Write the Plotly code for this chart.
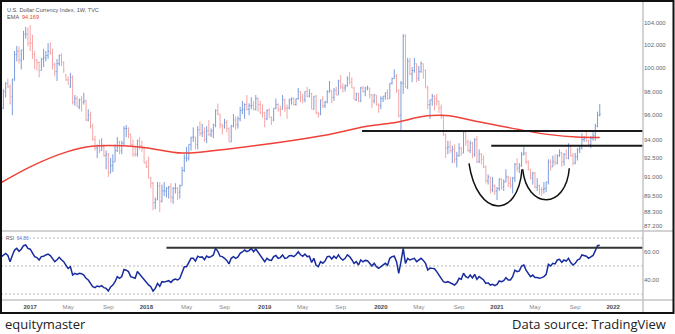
import math
import pandas as pd
import plotly.graph_objects as go

# ---------------- data (weekly bars, Monday dates) ----------------
week_start = "2016-10-03"

open_ = [
    95.5, 96.6, 98.0, 98.7, 98.4, 97.6, 99.1, 101.2, 101.5, 100.7, 101.6, 103.0, 103.0,
    102.2, 102.2, 101.2, 100.7, 100.5, 99.8, 100.8, 100.9, 101.1, 101.5, 101.3, 100.3, 99.7,
    100.4, 101.1, 100.5, 99.4, 99.0, 98.4, 99.2, 97.1, 97.4, 96.7, 97.3, 97.1, 97.2, 95.6,
    96.0, 95.1, 94.0, 93.3, 93.5, 93.1, 93.4, 92.7, 92.8, 91.3, 91.9, 92.2, 93.1, 93.8,
    93.1, 93.7, 94.9, 94.9, 94.4, 93.6, 92.8, 92.8, 93.9, 93.5, 93.3,
    92.1, 91.8, 90.9, 90.5, 89.0, 89.2, 90.3, 89.1, 89.9, 89.9, 90.1, 90.2, 89.4, 90.1,
    90.1, 89.8, 90.3, 91.5, 92.5, 92.5, 93.6, 94.2, 94.2, 93.6, 94.8, 94.5, 94.6, 94.0,
    94.7, 94.4, 94.7, 95.2, 96.4, 96.1, 95.2, 95.1, 95.4, 94.9, 93.8, 95.1, 95.6, 95.2,
    95.7, 96.4, 96.5, 96.9, 96.5, 96.8, 96.8, 96.5, 97.4, 96.9,
    96.2, 96.2, 95.7, 96.4, 95.8, 95.6, 96.6, 96.9, 96.5, 96.5, 97.3, 96.6, 96.6, 97.3,
    97.4, 96.9, 97.4, 98.0, 97.5, 97.3, 98.0, 97.6, 97.8, 96.5, 97.6, 96.2, 96.1, 97.3,
    96.8, 97.1, 98.0, 98.1, 97.5, 98.1, 97.7, 98.9, 98.4, 98.3, 98.5, 99.1, 98.8, 98.3,
    97.3, 97.8, 97.2, 98.3, 98.0, 98.3, 98.3, 97.7, 97.2, 97.7,
    96.9, 96.8, 97.4, 97.6, 97.9, 97.4, 98.7, 99.1, 99.3, 98.1, 96.0, 98.7, 102.8, 98.4,
    100.6, 99.5, 99.8, 100.4, 99.1, 99.7, 100.4, 99.8, 98.3, 96.9, 97.3, 97.6, 97.4, 97.2,
    96.6, 95.9, 94.4, 93.3, 93.4, 93.1, 93.2, 92.4, 92.7, 93.3, 92.9, 94.6, 93.8, 93.1,
    93.7, 92.8, 94.0, 92.2, 92.8, 92.4, 91.8, 90.7, 91.0, 90.0,
    90.3, 89.9, 90.1, 90.8, 90.2, 90.6, 91.0, 90.5, 90.3, 90.9, 92.0, 91.7, 91.9, 92.8,
    92.9, 92.2, 91.6, 90.9, 91.3, 90.2, 90.3, 90.0, 90.0, 90.1, 90.6, 92.2, 91.8, 92.2,
    92.1, 92.7, 92.9, 92.2, 92.8, 92.5, 93.5, 92.7, 92.1, 92.6, 93.2, 93.3, 94.0, 94.1,
    93.9, 93.6, 94.1, 94.3, 95.1, 96.0,
]
high = [
    96.9, 98.2, 98.8, 99.1, 98.6, 99.1, 101.5, 101.95, 101.9, 101.6, 103.3, 103.65, 103.6,
    103.82, 102.95, 101.5, 100.8, 100.6, 100.9, 101.7, 101.5, 102.2, 102.3, 101.7, 100.5, 100.8,
    101.2, 101.3, 100.6, 99.5, 99.3, 99.6, 99.4, 97.7, 97.6, 97.4, 97.6, 97.9, 97.3, 96.5,
    96.3, 95.3, 94.3, 93.6, 94.0, 94.1, 93.6, 93.1, 92.9, 92.5, 92.8, 93.6, 94.2, 93.9,
    93.9, 95.1, 95.2, 95.0, 94.5, 94.0, 93.4, 94.0, 94.2, 93.9, 93.3,
    92.3, 92.6, 91.0, 90.6, 89.4, 90.6, 90.6, 90.4, 90.6, 90.2, 90.3, 90.5, 90.2, 90.5,
    90.2, 90.4, 91.8, 92.8, 93.4, 93.6, 94.2, 95.0, 94.2, 95.1, 95.5, 95.3, 95.0, 95.1,
    95.6, 94.9, 95.3, 96.5, 96.98, 96.1, 95.3, 95.7, 95.6, 95.0, 95.2, 96.1, 95.9, 95.9,
    96.7, 97.2, 97.0, 97.7, 97.0, 97.5, 97.2, 97.7, 97.5, 97.2,
    96.9, 96.3, 96.5, 96.6, 95.9, 96.6, 97.4, 97.0, 96.8, 97.7, 97.4, 96.9, 97.4, 97.5,
    97.5, 97.4, 98.3, 98.0, 97.8, 98.0, 98.4, 98.2, 97.9, 97.6, 97.7, 96.3, 97.3, 97.6,
    97.2, 98.1, 98.9, 98.1, 98.3, 98.4, 99.0, 99.4, 98.7, 98.6, 99.3, 99.67, 99.2, 98.4,
    97.9, 97.9, 98.4, 98.5, 98.4, 98.5, 98.3, 97.8, 97.8, 97.7,
    97.0, 97.6, 97.6, 97.9, 98.2, 98.7, 99.2, 99.9, 99.5, 98.2, 98.9, 103.0, 103.0, 100.9,
    100.9, 100.1, 100.9, 100.4, 100.2, 100.6, 100.4, 99.9, 98.5, 97.3, 97.8, 97.7, 97.8, 97.2,
    96.9, 96.0, 94.5, 93.9, 93.9, 93.5, 93.6, 93.0, 93.7, 93.4, 94.7, 94.6, 94.0, 93.9,
    93.8, 94.1, 94.3, 93.2, 92.9, 92.7, 91.9, 91.2, 91.0, 91.0,
    90.4, 90.2, 90.9, 90.9, 90.8, 91.6, 91.1, 91.0, 91.0, 92.1, 92.5, 92.1, 93.0, 93.44,
    93.0, 92.3, 91.6, 91.4, 91.4, 90.9, 90.4, 90.2, 90.6, 90.6, 92.4, 92.4, 92.7, 92.8,
    92.8, 93.2, 93.0, 92.9, 93.2, 93.7, 93.5, 92.9, 92.9, 93.3, 93.5, 94.5, 94.3, 94.6,
    94.0, 94.3, 94.6, 95.3, 96.3, 96.94,
]
low = [
    95.4, 96.5, 97.5, 98.3, 96.9, 96.0, 98.9, 100.6, 100.4, 99.9, 100.7, 102.6, 101.9,
    101.5, 100.8, 99.9, 99.8, 99.2, 99.8, 100.1, 100.6, 100.8, 101.2, 99.9, 99.3, 98.9,
    100.2, 100.2, 99.6, 98.9, 98.6, 98.3, 96.9, 96.8, 96.7, 96.5, 96.3, 96.9, 95.5, 95.5,
    94.9, 93.9, 93.1, 92.5, 92.9, 93.1, 92.6, 91.6, 91.0, 91.3, 91.4, 92.2, 93.0, 92.8,
    92.8, 93.5, 94.2, 94.1, 93.4, 92.6, 92.6, 92.6, 93.2, 93.0, 92.1,
    91.7, 90.9, 90.1, 88.4, 88.5, 89.2, 88.25, 89.0, 89.5, 89.4, 89.3, 89.0, 88.9, 89.7,
    89.2, 89.3, 90.3, 91.4, 92.2, 92.3, 93.1, 93.8, 93.2, 93.2, 94.3, 94.2, 93.8, 93.7,
    94.3, 94.2, 94.1, 95.0, 96.0, 94.9, 94.4, 94.9, 94.6, 93.8, 93.8, 95.0, 94.8, 94.9,
    95.5, 96.1, 95.7, 96.4, 96.0, 96.5, 96.4, 96.4, 96.3, 96.1,
    95.8, 95.0, 95.6, 95.8, 95.2, 95.5, 96.5, 96.3, 95.9, 96.5, 96.3, 95.7, 96.5, 96.9,
    96.8, 96.8, 97.3, 97.1, 97.0, 97.1, 97.5, 97.5, 96.5, 96.5, 96.1, 95.8, 96.0, 96.6,
    96.6, 97.0, 97.9, 97.0, 97.2, 97.7, 97.7, 98.2, 97.9, 98.0, 98.4, 98.6, 98.3, 97.3,
    97.2, 97.1, 97.1, 97.9, 97.6, 98.1, 97.4, 96.6, 97.0, 96.8,
    96.2, 96.5, 97.1, 97.3, 97.3, 97.4, 98.6, 99.1, 97.9, 95.8, 94.65, 97.8, 98.3, 98.2,
    99.4, 98.8, 99.6, 98.8, 98.9, 99.6, 99.1, 98.3, 96.5, 95.7, 96.8, 96.4, 96.8, 96.2,
    95.7, 94.3, 92.5, 92.8, 92.9, 92.1, 92.1, 91.75, 92.6, 92.7, 92.9, 93.5, 93.0, 92.9,
    92.5, 92.6, 92.1, 92.1, 92.0, 91.7, 90.5, 90.4, 89.7, 89.8,
    89.6, 89.2, 89.9, 90.0, 89.9, 90.6, 90.2, 90.1, 89.7, 90.6, 91.4, 91.3, 91.8, 92.7,
    92.0, 91.5, 90.8, 90.4, 90.1, 89.9, 89.6, 89.5, 89.7, 89.8, 90.4, 91.5, 91.8, 91.9,
    92.0, 92.6, 91.8, 91.9, 92.4, 92.4, 92.6, 91.9, 92.0, 92.3, 92.9, 93.2, 93.8, 93.8,
    93.5, 93.3, 93.9, 93.9, 95.0, 95.9,
]
close = [
    96.6, 98.0, 98.7, 98.4, 97.0, 99.0, 101.2, 101.5, 100.7, 101.6, 103.0, 103.0, 102.2,
    102.2, 101.2, 100.7, 100.5, 99.8, 100.8, 100.9, 101.1, 101.5, 101.3, 100.3, 99.7, 100.4,
    101.1, 100.5, 99.8, 99.0, 98.6, 99.2, 97.1, 97.4, 96.7, 97.3, 97.1, 97.2, 95.6, 96.0,
    95.1, 94.0, 93.3, 93.5, 93.1, 93.4, 92.7, 92.8, 91.3, 91.9, 92.2, 93.1, 93.8, 93.1,
    93.7, 94.9, 94.9, 94.4, 93.6, 92.8, 92.8, 93.9, 93.5, 93.3, 92.1,
    91.8, 90.9, 90.5, 89.0, 89.2, 90.3, 89.1, 89.9, 89.9, 90.1, 90.2, 89.4, 90.1, 90.1,
    89.8, 90.3, 91.5, 92.5, 92.5, 93.6, 94.2, 94.2, 93.6, 94.8, 94.5, 94.6, 94.0, 94.7,
    94.4, 94.7, 95.2, 96.4, 96.1, 95.2, 95.1, 95.4, 94.9, 93.8, 95.1, 95.6, 95.2, 95.7,
    96.4, 96.5, 96.9, 96.5, 96.8, 96.8, 96.5, 97.4, 96.9, 96.2,
    96.2, 95.7, 96.4, 95.8, 95.6, 96.6, 96.9, 96.5, 96.5, 97.3, 96.6, 96.6, 97.3, 97.4,
    96.9, 97.4, 98.0, 97.5, 97.3, 98.0, 97.6, 97.8, 96.5, 97.6, 96.2, 96.1, 97.3, 96.8,
    97.1, 98.0, 98.1, 97.5, 98.1, 97.7, 98.9, 98.4, 98.3, 98.5, 99.1, 98.8, 98.3, 97.3,
    97.8, 97.2, 98.3, 98.0, 98.3, 98.3, 97.7, 97.2, 97.7, 96.9,
    96.8, 97.4, 97.6, 97.9, 97.4, 98.7, 99.1, 99.3, 98.1, 96.0, 98.7, 102.8, 98.4, 100.6,
    99.5, 99.8, 100.4, 99.1, 99.7, 100.4, 99.8, 98.3, 96.9, 97.3, 97.6, 97.4, 97.2, 96.6,
    95.9, 94.4, 93.3, 93.4, 93.1, 93.2, 92.4, 92.7, 93.3, 92.9, 94.6, 93.8, 93.1, 93.7,
    92.8, 94.0, 92.2, 92.8, 92.4, 91.8, 90.7, 91.0, 90.0, 90.3,
    89.9, 90.1, 90.8, 90.2, 90.6, 91.0, 90.5, 90.3, 90.9, 92.0, 91.7, 91.9, 92.8, 92.9,
    92.2, 91.6, 90.9, 91.3, 90.2, 90.3, 90.0, 90.0, 90.1, 90.6, 92.2, 91.8, 92.2, 92.1,
    92.7, 92.9, 92.2, 92.8, 92.5, 93.5, 92.7, 92.1, 92.6, 93.2, 93.3, 94.0, 94.1, 93.9,
    93.6, 94.1, 94.3, 95.1, 96.0, 96.1,
]
rsi = [
    56.5, 58.0, 59.0, 57.5, 53.1, 57.5, 61.4, 62.6, 60.5, 62.0, 64.5, 65.0, 62.6,
    62.0, 59.0, 56.7, 56.0, 54.3, 56.7, 57.0, 57.9, 58.5, 57.5, 55.5, 53.1, 54.5,
    56.2, 54.5, 53.1, 50.5, 48.3, 49.5, 43.6, 44.8, 44.0, 44.8, 44.5, 43.5, 41.2, 40.0,
    37.5, 35.2, 34.5, 35.7, 35.2, 36.0, 34.5, 34.0, 32.1, 35.0, 36.4, 38.8, 42.4, 41.2,
    42.5, 47.6, 47.0, 46.0, 42.4, 41.5, 41.2, 46.0, 44.0, 42.4, 40.0,
    38.8, 36.5, 35.2, 32.1, 34.0, 37.6, 35.5, 38.8, 38.5, 39.3, 39.5, 38.3, 40.0, 40.7,
    40.0, 41.2, 46.0, 49.5, 49.5, 52.5, 55.5, 55.5, 53.5, 57.0, 56.2, 56.5, 54.5, 57.1,
    56.2, 56.7, 57.9, 62.6, 60.5, 57.0, 56.7, 55.5, 54.0, 51.5, 55.5, 56.7, 55.5, 56.5,
    59.0, 60.0, 61.4, 60.2, 61.0, 62.6, 60.2, 62.1, 60.0, 57.9,
    56.0, 53.1, 55.5, 54.3, 54.0, 56.7, 57.5, 55.5, 56.0, 57.9, 55.5, 55.8, 57.4, 57.5,
    56.7, 58.0, 60.2, 58.0, 57.0, 58.5, 56.7, 57.0, 52.5, 55.5, 50.5, 49.5, 53.1, 52.0,
    53.5, 56.7, 57.0, 55.0, 57.0, 55.5, 57.9, 55.5, 54.3, 55.5, 57.9, 56.7, 54.5, 51.9,
    53.1, 50.7, 54.3, 53.0, 54.0, 53.8, 51.9, 50.0, 52.0, 49.5,
    48.3, 49.5, 51.0, 51.9, 50.5, 55.5, 56.7, 57.0, 53.1, 44.8, 53.1, 62.6, 51.9, 55.5,
    54.3, 54.8, 55.5, 53.1, 54.5, 55.5, 54.0, 51.9, 47.1, 48.5, 48.3, 48.0, 46.0, 44.0,
    41.2, 38.8, 38.3, 38.8, 38.0, 37.5, 36.4, 38.0, 41.2, 40.5, 44.8, 42.4, 41.5, 43.6,
    41.5, 44.0, 40.5, 42.4, 41.0, 40.0, 37.6, 38.0, 36.4, 36.9,
    36.0, 36.9, 39.3, 38.8, 39.5, 41.7, 40.0, 40.0, 42.4, 47.1, 46.0, 46.5, 50.0, 50.7,
    47.1, 44.8, 42.4, 43.5, 41.7, 41.7, 41.2, 41.7, 42.4, 44.0, 51.2, 50.0, 51.9, 51.5,
    54.3, 54.8, 52.6, 54.3, 53.5, 55.5, 52.5, 50.7, 51.9, 54.3, 55.0, 57.9, 57.4, 57.0,
    55.5, 56.7, 57.5, 61.0, 64.5, 64.86,
]

ema_dates = ["2016-10-03", "2017-01-10", "2017-04-27", "2017-07-14", "2017-12-11",
             "2018-04-25", "2018-09-03", "2019-07-14", "2019-11-15", "2020-02-08",
             "2020-05-30", "2020-07-14", "2020-08-08", "2020-11-20", "2021-04-07",
             "2021-06-18", "2021-09-10", "2021-11-22"]
ema_values = [90.55, 91.9, 93.0, 93.45, 93.4, 92.9, 93.2, 94.35, 95.05, 95.35,
              95.95, 96.0, 95.95, 95.4, 94.7, 94.4, 94.2, 94.17]

resistance_levels = [94.7, 93.49]
resistance_starts = ["2019-11-08", "2020-12-17"]
rsi_level = 63.1
rsi_level_start = "2018-03-05"
rsi_bands = [30, 50, 70]

price_ticks = [87.2, 88.3, 89.5, 91.0, 92.5, 94.0, 96.0, 98.0, 100.0, 102.0, 104.0]
price_tick_text = ["87.200", "88.300", "89.500", "91.000", "92.500", "94.000",
                   "96.000", "98.000", "100.000", "102.000", "104.000"]
rsi_ticks = [40, 60]
rsi_tick_text = ["40.00", "60.00"]

x_tick_dates = ["2017-01-02", "2017-05-01", "2017-09-04", "2018-01-01", "2018-05-07",
                "2018-09-03", "2019-01-07", "2019-05-06", "2019-09-02", "2020-01-06",
                "2020-05-04", "2020-09-07", "2021-01-04", "2021-05-03", "2021-09-06",
                "2022-01-03"]
x_tick_labels = ["2017", "May", "Sep", "2018", "May", "Sep", "2019", "May", "Sep",
                 "2020", "May", "Sep", "2021", "May", "Sep", "2022"]

# ---------------- layout helpers ----------------
W, H = 675, 334
def px(x):
    return x / W
def py(y):
    return 1 - y / H

dates = pd.date_range(week_start, periods=len(close), freq="7D")
x_range = ["2016-10-02 12:00", "2022-04-06 12:00"]
x_end = x_range[1]

fig = go.Figure()

fig.add_trace(go.Ohlc(
    x=dates, open=open_, high=high, low=low, close=close,
    increasing=dict(line=dict(color="#7a9ddd", width=1)),
    decreasing=dict(line=dict(color="#f5a5a5", width=1)),
    tickwidth=0.4, xaxis="x", yaxis="y", hoverinfo="skip"))

fig.add_trace(go.Scatter(
    x=ema_dates, y=ema_values, mode="lines",
    line=dict(color="#ef4138", width=1.5, shape="spline", smoothing=1.0),
    xaxis="x", yaxis="y", hoverinfo="skip"))

for lvl, start in zip(resistance_levels, resistance_starts):
    fig.add_trace(go.Scatter(
        x=[start, x_end], y=[lvl, lvl], mode="lines",
        line=dict(color="#1a1a1a", width=2), xaxis="x", yaxis="y", hoverinfo="skip"))

fig.add_trace(go.Scatter(
    x=dates, y=rsi, mode="lines", line=dict(color="#182c9e", width=1.5),
    xaxis="x2", yaxis="y2", hoverinfo="skip"))

fig.add_trace(go.Scatter(
    x=[rsi_level_start, x_end], y=[rsi_level, rsi_level], mode="lines",
    line=dict(color="#333333", width=2), xaxis="x2", yaxis="y2", hoverinfo="skip"))

shapes = []
for b in rsi_bands:
    shapes.append(dict(type="line", xref="paper", yref="y2", x0=px(1), x1=px(643),
                       y0=b, y1=b, line=dict(color="#b5b5b5", width=1, dash="2px,2px"),
                       layer="below"))
# panel separators
shapes.append(dict(type="line", xref="paper", yref="paper", x0=px(643), x1=px(643),
                   y0=py(313), y1=py(1), line=dict(color="#c4c4c4", width=1.5)))
for yy in (231, 300):
    shapes.append(dict(type="line", xref="paper", yref="paper", x0=px(1), x1=px(673.5),
                       y0=py(yy), y1=py(yy), line=dict(color="#c4c4c4", width=1.5)))
# outer frame
shapes.append(dict(type="rect", xref="paper", yref="paper", x0=px(1), x1=px(673.5),
                   y0=py(313), y1=py(1), line=dict(color="#111111", width=2)))

def bez(p0, c1, c2, p3):
    return (f"M {px(p0[0])},{py(p0[1])} C {px(c1[0])},{py(c1[1])} "
            f"{px(c2[0])},{py(c2[1])} {px(p3[0])},{py(p3[1])}")

shapes.append(dict(type="path", xref="paper", yref="paper",
                   path=bez((469, 163.3), (477, 218), (518, 220), (522, 169.3)),
                   line=dict(color="#111111", width=1.5)))
shapes.append(dict(type="path", xref="paper", yref="paper",
                   path=bez((522.7, 169.3), (527, 210), (566, 210), (569.3, 168.3)),
                   line=dict(color="#111111", width=1.5)))

label_font = "Liberation Sans, Arial, sans-serif"
annotations = [
    dict(text="U.S. Dollar Currency Index, 1W, TVC", xref="paper", yref="paper",
         x=px(4.5), y=py(9.5), xanchor="left", yanchor="middle", showarrow=False,
         font=dict(family=label_font, size=5.6, color="#555555")),
    dict(text="EMA  <span style='color:#f0443c'>94.169</span>", xref="paper", yref="paper",
         x=px(4.5), y=py(17), xanchor="left", yanchor="middle", showarrow=False,
         font=dict(family=label_font, size=5.6, color="#555555")),
    dict(text="RSI  <span style='color:#3f6fd8'>64.86</span>", xref="paper", yref="paper",
         x=px(4.5), y=py(238.3), xanchor="left", yanchor="middle", showarrow=False,
         bgcolor="white", borderpad=0,
         font=dict(family=label_font, size=4.8, color="#555555")),
    dict(text="equitymaster", xref="paper", yref="paper", x=px(3), y=py(323.5),
         xanchor="left", yanchor="middle", showarrow=False,
         font=dict(family="Open Sans, Noto Sans, sans-serif", size=13, color="#222222")),
    dict(text="Data source: TradingView", xref="paper", yref="paper", x=px(667.5), y=py(323.5),
         xanchor="right", yanchor="middle", showarrow=False,
         font=dict(family="Open Sans, Noto Sans, sans-serif", size=13, color="#222222")),
]

x_tick_text = [f"<b>{t}</b>" if t.isdigit() else f"<span style='color:#8a8a8a'>{t}</span>"
               for t in x_tick_labels]

fig.update_layout(
    width=W, height=H, margin=dict(l=0, r=0, t=0, b=0),
    paper_bgcolor="white", plot_bgcolor="white", showlegend=False,
    shapes=shapes, annotations=annotations,
    xaxis=dict(domain=[px(1), px(643)], range=x_range, type="date", anchor="y",
               showticklabels=False, showgrid=False, zeroline=False, showline=False,
               ticks="", rangeslider=dict(visible=False)),
    xaxis2=dict(domain=[px(1), px(643)], range=x_range, type="date", anchor="y2",
                matches="x", tickmode="array", tickvals=x_tick_dates, ticktext=x_tick_text,
                tickfont=dict(family=label_font, size=6, color="#4a4a4a"),
                ticklabelstandoff=2,
                showgrid=False, zeroline=False, showline=False, ticks="",
                rangeslider=dict(visible=False)),
    yaxis=dict(domain=[py(231), py(2)], type="log",
               range=[math.log10(86.828), math.log10(105.913)], anchor="x", side="right",
               tickmode="array", tickvals=price_ticks, ticktext=price_tick_text,
               tickfont=dict(family=label_font, size=6, color="#666666"),
               showgrid=False, zeroline=False, showline=False, ticks=""),
    yaxis2=dict(domain=[py(300), py(231)], range=[25.71, 75], anchor="x2", side="right",
                tickmode="array", tickvals=rsi_ticks, ticktext=rsi_tick_text,
                tickfont=dict(family=label_font, size=6, color="#666666"),
                showgrid=False, zeroline=False, showline=False, ticks=""),
)

fig.write_html("out.html")
